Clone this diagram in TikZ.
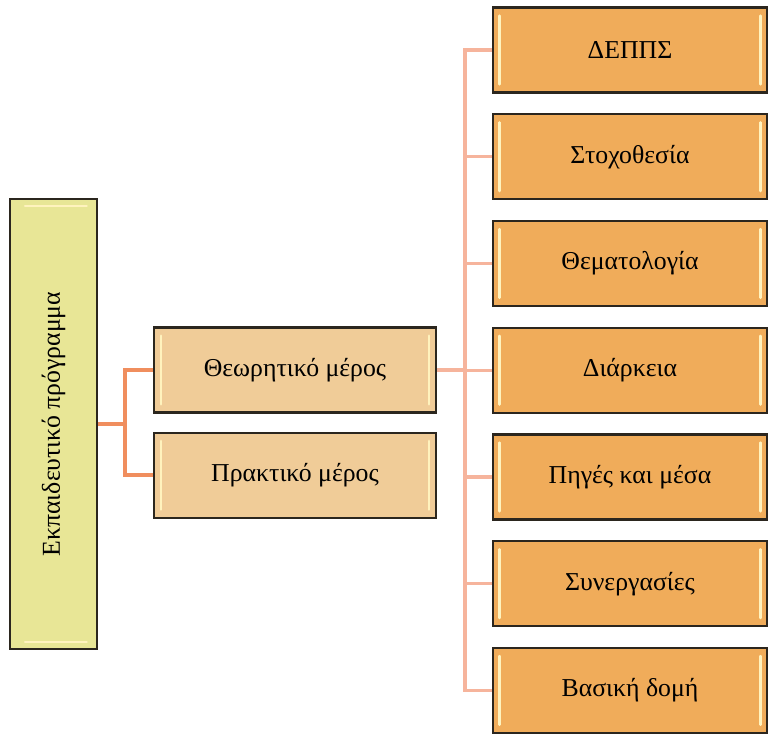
\documentclass[tikz,border=0pt]{standalone}
\usepackage{graphicx}
\usepackage{fontspec}
\setmainfont{Liberation Serif}
\usepackage{xcolor}
\usepackage{tikz}
\usetikzlibrary{
    positioning,
    shadows
}
\definecolor{progfill}{HTML}{E8E696}
\definecolor{partfill}{HTML}{F0CC98}
\definecolor{itemfill}{HTML}{F0AC5A}
\definecolor{boxline}{HTML}{2B261E}
\definecolor{bevelcream}{HTML}{FFF3BE}
\definecolor{linkleft}{HTML}{F08E5E}
\definecolor{linkright}{HTML}{F6B49C}
\tikzset{
    box/.style={
        rectangle, draw=boxline, line width=1.9pt,
        font=\fontsize{22}{26}\selectfont, align=center,
        drop shadow={opacity=0.3, shadow xshift=0.8pt, shadow yshift=-0.8pt}
    },
    bevelline/.style={
        draw=bevelcream, line width=2.2pt, line cap=round
    },
    sidebevel/.style={
        path picture={
            \draw[bevelline] ([shift={(6pt,-7pt)}]path picture bounding box.north west) -- ([shift={(6pt,7pt)}]path picture bounding box.south west);
            \draw[bevelline] ([shift={(-6pt,-7pt)}]path picture bounding box.north east) -- ([shift={(-6pt,7pt)}]path picture bounding box.south east);
        }
    },
    topbevel/.style={
        path picture={
            \draw[bevelline] ([shift={(13pt,-6pt)}]path picture bounding box.north west) -- ([shift={(-9pt,-6pt)}]path picture bounding box.north east);
            \draw[bevelline] ([shift={(13pt,6pt)}]path picture bounding box.south west) -- ([shift={(-9pt,6pt)}]path picture bounding box.south east);
        }
    }
}
\begin{document}
\begin{tikzpicture}[
        x=0.03cm, y=-0.03cm,
        node distance=0.585cm,
        progbox/.style={box, topbevel, fill=progfill, minimum width=2.62cm, minimum height=13.5cm},
        partbox/.style={box, sidebevel, fill=partfill, minimum width=8.46cm, minimum height=2.55cm},
        itembox/.style={box, sidebevel, fill=itemfill, minimum width=8.24cm, minimum height=2.55cm},
        linkL/.style={draw=linkleft, line width=3.2pt},
        linkR/.style={draw=linkright, line width=2.8pt}
    ]
        \useasboundingbox (0,0) rectangle (769,734);

        % Programme
        \node[progbox] (prog) at (53.5,424) {\rotatebox{90}{Εκπαιδευτικό πρόγραμμα}};

        % Parts
        \node[partbox] (theory) at (295,370) {Θεωρητικό μέρος};
        \node[partbox, below=0.54cm of theory] (practice) {Πρακτικό μέρος};

        % Items of the theoretical part
        \node[itembox] (depps) at (630,50) {ΔΕΠΠΣ};
        \node[itembox, below=of depps] (goals) {Στοχοθεσία};
        \node[itembox, below=of goals] (topics) {Θεματολογία};
        \node[itembox, below=of topics] (duration) {Διάρκεια};
        \node[itembox, below=of duration] (sources) {Πηγές και μέσα};
        \node[itembox, below=of sources] (partners) {Συνεργασίες};
        \node[itembox, below=of partners] (structure) {Βασική δομή};

        % Connectors
        \coordinate (hubL) at (125,424);
        \coordinate (hubR) at (465,370);
        \draw[linkL] (prog.east) -- (hubL) |- (theory.west);
        \draw[linkL] (hubL) |- (practice.west);
        \draw[linkR] (theory.east) -- (hubR);
        \foreach \n in {depps, goals, topics, duration, sources, partners, structure}
            \draw[linkR] (hubR) |- (\n.west);

    \end{tikzpicture}
\end{document}
